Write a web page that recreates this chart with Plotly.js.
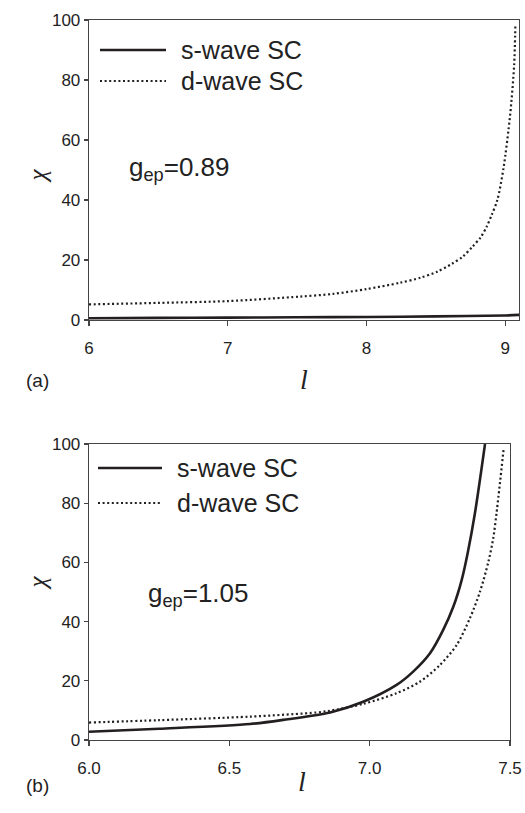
<!DOCTYPE html>
<html>
<head>
<meta charset="utf-8">
<script src="https://cdn.plot.ly/plotly-3.0.1.min.js"></script>
<style>html,body{margin:0;padding:0;background:#fff;}#chart{width:525px;height:813px;}</style>
</head>
<body>
<div id="chart"></div>
<script>
// ---- Data: panel (a), g_ep = 0.89 ----
const lA_s   = [6.0, 6.5, 7.0, 7.5, 8.0, 8.5, 9.0, 9.1];
const chiA_s = [0.6, 0.7, 0.8, 0.9, 1.0, 1.2, 1.5, 1.7];
const lA_d   = [6.0, 6.5, 7.0, 7.52, 7.76, 8.0, 8.24, 8.39, 8.51, 8.615, 8.694, 8.764, 8.824, 8.867, 8.903, 8.944, 8.988, 9.036, 9.065, 9.074];
const chiA_d = [5.2, 5.7, 6.3, 7.8, 8.7, 10.3, 12.4, 14.1, 16.1, 18.7, 21.1, 24.4, 27.6, 31.1, 35.0, 40.0, 50.5, 68.3, 85.0, 98.7];

// ---- Data: panel (b), g_ep = 1.05 ----
const lB_s   = [6.0, 6.25, 6.574, 6.692, 6.859, 6.977, 7.096, 7.155, 7.215, 7.262, 7.298, 7.328, 7.35, 7.375, 7.411];
const chiB_s = [2.8, 3.8, 5.4, 6.8, 9.3, 12.9, 18.6, 23.1, 29.3, 37.2, 45.0, 54.1, 63.5, 76.6, 100];
const lB_d   = [6.0, 6.25, 6.574, 6.811, 6.859, 6.977, 7.096, 7.179, 7.25, 7.31, 7.357, 7.393, 7.423, 7.44, 7.452, 7.478];
const chiB_d = [5.9, 6.7, 7.9, 9.3, 9.9, 12.2, 15.8, 19.7, 25.3, 32.1, 41.1, 50.1, 60.2, 68.0, 76.6, 98.9];

const seriesNames = ["s-wave SC", "d-wave SC"];
const gLabels = ["g<sub>ep</sub>=0.89", "g<sub>ep</sub>=1.05"];
const panelLabels = ["(a)", "(b)"];
const yTicks = [0, 20, 40, 60, 80, 100];
const xTicksA = [6, 7, 8, 9];
const xTicksB = [6.0, 6.5, 7.0, 7.5];

// ---- styling ----
const W = 525, H = 813;
const px = x => x / W;
const py = y => 1 - y / H;
const ink = '#231f20';
const dotDash = '2px,2.6px';
const solidW = 2.6, dotW = 2.2;
const lineStyle = (dash, w) => ({color: ink, width: w, dash: dash, shape: 'spline', smoothing: 0.8});

const traces = [
  {x: lA_s, y: chiA_s, xaxis: 'x', yaxis: 'y', mode: 'lines', name: seriesNames[0],
   line: lineStyle('solid', solidW), showlegend: false},
  {x: lA_d, y: chiA_d, xaxis: 'x', yaxis: 'y', mode: 'lines', name: seriesNames[1],
   line: lineStyle(dotDash, dotW), showlegend: false},
  {x: lB_s, y: chiB_s, xaxis: 'x2', yaxis: 'y2', mode: 'lines', name: seriesNames[0],
   line: lineStyle('solid', solidW), showlegend: false},
  {x: lB_d, y: chiB_d, xaxis: 'x2', yaxis: 'y2', mode: 'lines', name: seriesNames[1],
   line: lineStyle(dotDash, dotW), showlegend: false}
];

const tickFont = {family: 'Liberation Sans, Arial, sans-serif', size: 17, color: '#222'};
function xAxis(domain, range, ticks, fmt, anchor) {
  return {domain: domain, range: range, tickvals: ticks, tickformat: fmt, anchor: anchor,
    showgrid: false, zeroline: false, showline: true, mirror: true, linecolor: '#444', linewidth: 1.3,
    ticks: 'outside', ticklen: 5, tickcolor: '#444', tickwidth: 1.2, tickfont: tickFont,
    ticklabelstandoff: 7, fixedrange: true};
}
function yAxis(domain, anchor) {
  return {domain: domain, range: [0, 100], tickvals: yTicks, anchor: anchor,
    showgrid: false, zeroline: false, showline: true, mirror: true, linecolor: '#444', linewidth: 1.3,
    ticks: 'outside', ticklen: 4, tickcolor: '#444', tickwidth: 1.2, tickfont: tickFont, fixedrange: true};
}

const legFont = {family: 'Liberation Sans, Arial, sans-serif', size: 25, color: '#222'};
const gFont = {family: 'Liberation Sans, Arial, sans-serif', size: 26, color: '#222'};
const symFont = {family: 'Liberation Serif, Times New Roman, serif', size: 28, color: '#222'};
const chiFont = {family: 'Liberation Serif, Times New Roman, serif', size: 25, color: '#222'};
const panFont = {family: 'Liberation Sans, Arial, sans-serif', size: 19, color: '#222'};

function legendItems(x0, x1, xt, y1, y2) {
  const shapes = [
    {type: 'line', xref: 'paper', yref: 'paper', x0: px(x0), x1: px(x1), y0: py(y1), y1: py(y1),
     line: {color: ink, width: solidW}},
    {type: 'line', xref: 'paper', yref: 'paper', x0: px(x0), x1: px(x1), y0: py(y2), y1: py(y2),
     line: {color: ink, width: dotW, dash: dotDash}}
  ];
  const ann = [
    {xref: 'paper', yref: 'paper', x: px(xt), y: py(y1), xanchor: 'left', yanchor: 'middle',
     text: seriesNames[0], showarrow: false, font: legFont},
    {xref: 'paper', yref: 'paper', x: px(xt), y: py(y2), xanchor: 'left', yanchor: 'middle',
     text: seriesNames[1], showarrow: false, font: legFont}
  ];
  return {shapes, ann};
}
const legA = legendItems(100, 166, 179, 50, 81);
const legB = legendItems(98, 162, 175, 468, 503);

const annotations = [].concat(legA.ann, legB.ann, [
  {xref: 'paper', yref: 'paper', x: px(127), y: py(169), xanchor: 'left', yanchor: 'middle',
   text: gLabels[0], showarrow: false, font: gFont},
  {xref: 'paper', yref: 'paper', x: px(146), y: py(594), xanchor: 'left', yanchor: 'middle',
   text: gLabels[1], showarrow: false, font: gFont},
  {xref: 'paper', yref: 'paper', x: px(21), y: py(167), text: '<i>χ</i>', textangle: -90,
   showarrow: false, font: chiFont},
  {xref: 'paper', yref: 'paper', x: px(21), y: py(592), text: '<i>χ</i>', textangle: -90,
   showarrow: false, font: chiFont},
  {xref: 'paper', yref: 'paper', x: px(304), y: py(379), text: '<i>l</i>',
   showarrow: false, font: symFont},
  {xref: 'paper', yref: 'paper', x: px(302), y: py(799), text: '<i>l</i>',
   showarrow: false, font: symFont},
  {xref: 'paper', yref: 'paper', x: px(24), y: py(380), text: panelLabels[0],
   showarrow: false, font: panFont},
  {xref: 'paper', yref: 'paper', x: px(24), y: py(798), text: panelLabels[1],
   showarrow: false, font: panFont}
]);

const layout = {
  width: W, height: H,
  margin: {l: 0, r: 0, t: 0, b: 0},
  paper_bgcolor: '#fff', plot_bgcolor: '#fff',
  showlegend: false,
  xaxis: xAxis([px(89), px(519)], [6, 9.1], xTicksA, 'd', 'y'),
  yaxis: yAxis([py(320), py(20)], 'x'),
  xaxis2: xAxis([px(89), px(510)], [6, 7.5], xTicksB, '.1f', 'y2'),
  yaxis2: yAxis([py(740), py(444)], 'x2'),
  shapes: [].concat(legA.shapes, legB.shapes),
  annotations: annotations
};

Plotly.newPlot('chart', traces, layout, {displayModeBar: false, staticPlot: true});
</script>
</body>
</html>
